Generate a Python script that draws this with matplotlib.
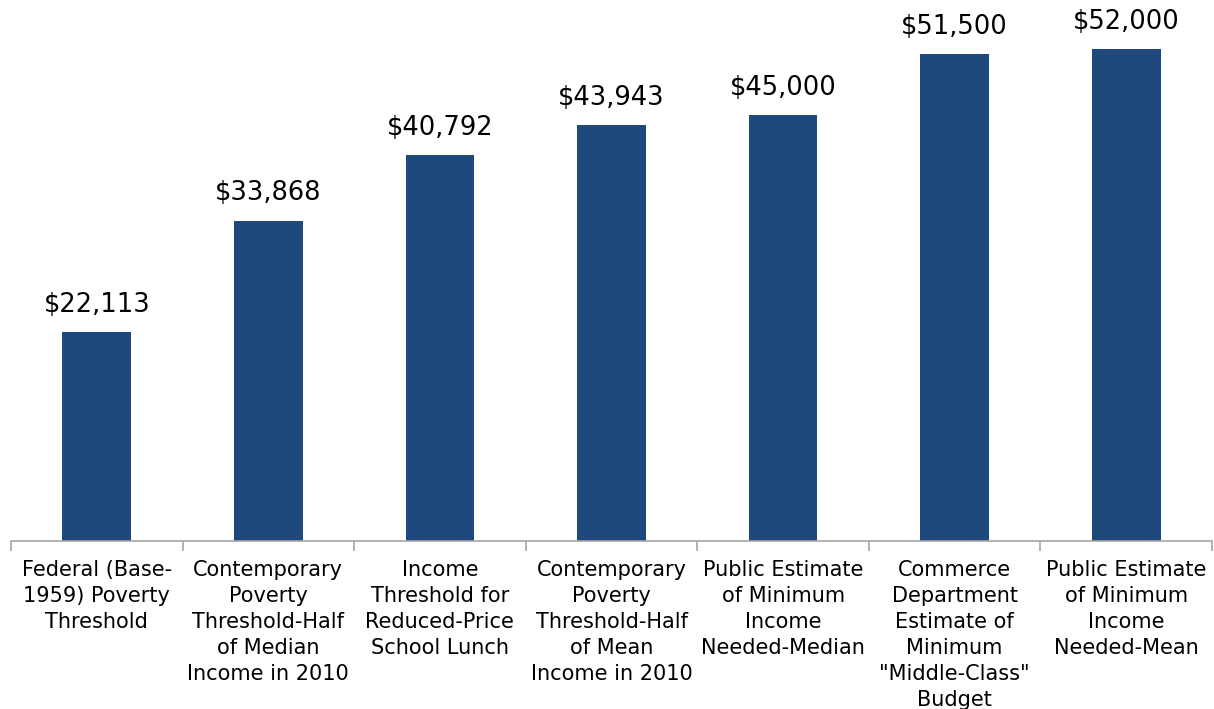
import numpy as np
import matplotlib.pyplot as plt

categories = [
    "Federal (Base-\n1959) Poverty\nThreshold",
    "Contemporary\nPoverty\nThreshold-Half\nof Median\nIncome in 2010",
    "Income\nThreshold for\nReduced-Price\nSchool Lunch",
    "Contemporary\nPoverty\nThreshold-Half\nof Mean\nIncome in 2010",
    "Public Estimate\nof Minimum\nIncome\nNeeded-Median",
    "Commerce\nDepartment\nEstimate of\nMinimum\n\"Middle-Class\"\nBudget",
    "Public Estimate\nof Minimum\nIncome\nNeeded-Mean",
]
values = [22113, 33868, 40792, 43943, 45000, 51500, 52000]

fig = plt.figure(figsize=(12.14, 7.09), dpi=100)
ax = fig.add_axes([11 / 1214, (709 - 541) / 709, 1201 / 1214, 541 / 709])

x = np.arange(len(values))
ax.bar(x, values, width=0.4, color="#1F497D", zorder=2)

for xi, v in zip(x, values):
    ax.text(xi, v + 1500, "${:,}".format(v), ha="center", va="bottom",
            fontsize=18.5, color="black")

ax.set_xlim(-0.5, len(values) - 0.5)
ax.set_ylim(0, 57200)
ax.set_yticks([])
ax.set_xticks(x)
ax.set_xticklabels(categories, fontsize=15, linespacing=1.37)
ax.tick_params(axis="x", which="major", length=0, pad=14)
ax.set_xticks(np.arange(-0.5, len(values), 1), minor=True)
ax.tick_params(axis="x", which="minor", length=7, color="#A6A6A6", width=1.2)

for side in ["top", "right", "left"]:
    ax.spines[side].set_visible(False)
ax.spines["bottom"].set_color("#A6A6A6")
ax.spines["bottom"].set_linewidth(1.2)

fig.savefig("out.png", dpi=100)
